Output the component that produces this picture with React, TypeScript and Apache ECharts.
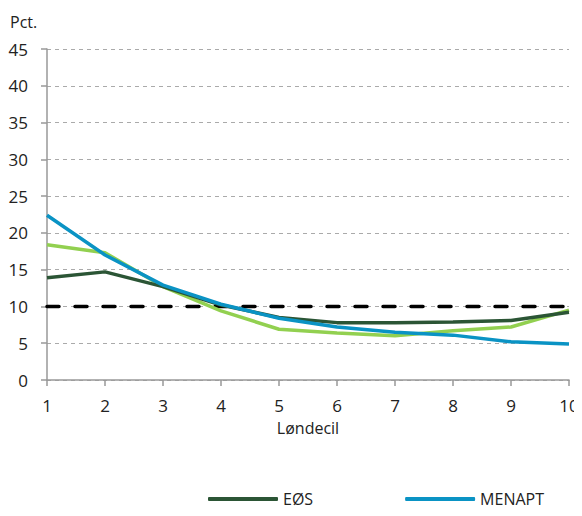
import React, { useEffect, useRef } from "react";
import * as echarts from "echarts";

const categories = ["1", "2", "3", "4", "5", "6", "7", "8", "9", "10"];
const eosValues = [13.9, 14.7, 12.7, 10.2, 8.5, 7.8, 7.8, 7.9, 8.1, 9.2];
const menaptValues = [22.4, 17.0, 12.9, 10.3, 8.4, 7.2, 6.5, 6.1, 5.2, 4.9];
const otherValues = [18.4, 17.3, 12.7, 9.4, 6.9, 6.4, 6.0, 6.7, 7.2, 9.5];
const refValues = [10, 10, 10, 10, 10, 10, 10, 10, 10, 10];

const FONT = "'Open Sans', 'Noto Sans', sans-serif";

export default function App() {
  const ref = useRef<HTMLDivElement>(null);
  useEffect(() => {
    if (!ref.current) return;
    const chart = echarts.init(ref.current, null, { renderer: "svg" });
    chart.setOption({
      animation: false,
      textStyle: { fontFamily: FONT },
      grid: { left: 47, right: 13, top: 49, bottom: 136 },
      graphic: [
        {
          type: "text",
          left: 10,
          top: 14,
          style: { text: "Pct.", font: `16px ${FONT}`, fill: "#222" },
        },
      ],
      legend: {
        left: 208,
        top: 491,
        padding: 0,
        itemWidth: 70,
        itemHeight: 4,
        itemGap: 92,
        icon: "roundRect",
        data: ["EØS", "MENAPT"],
        textStyle: { fontSize: 16, color: "#222", fontFamily: FONT, lineHeight: 16 },
      },
      xAxis: {
        type: "category",
        data: categories,
        boundaryGap: false,
        name: "Løndecil",
        nameLocation: "middle",
        nameGap: 40,
        nameTextStyle: { fontSize: 16, color: "#222" },
        axisLine: { lineStyle: { color: "#999", width: 1.5 } },
        axisTick: { alignWithLabel: true, length: 6, lineStyle: { color: "#999", width: 1.5 } },
        axisLabel: { fontSize: 17, color: "#222", margin: 17 },
      },
      yAxis: {
        type: "value",
        min: 0,
        max: 45,
        interval: 5,
        axisLine: { show: true, lineStyle: { color: "#999", width: 1.5 } },
        axisTick: { show: true, length: 6, lineStyle: { color: "#999", width: 1.5 } },
        axisLabel: { fontSize: 17, color: "#222", margin: 19 },
        splitLine: { lineStyle: { color: "#aaa", type: [4, 4], width: 1 } },
      },
      series: [
        {
          name: "Gennemsnit",
          type: "line",
          data: refValues,
          symbol: "none",
          lineStyle: { color: "#000", width: 3.5, type: [12, 16], cap: "round" },
          z: 1,
        },
        {
          name: "Øvrige",
          type: "line",
          data: otherValues,
          symbol: "none",
          lineStyle: { color: "#92d050", width: 3.5 },
          itemStyle: { color: "#92d050" },
          z: 2,
        },
        {
          name: "EØS",
          type: "line",
          data: eosValues,
          symbol: "none",
          lineStyle: { color: "#2b5535", width: 3.5 },
          itemStyle: { color: "#2b5535" },
          z: 3,
        },
        {
          name: "MENAPT",
          type: "line",
          data: menaptValues,
          symbol: "none",
          lineStyle: { color: "#0a93c4", width: 3.5 },
          itemStyle: { color: "#0a93c4" },
          z: 4,
        },
      ],
    });
    return () => chart.dispose();
  }, []);
  return <div ref={ref} style={{ width: 582, height: 516, margin: -8 }} />;
}
